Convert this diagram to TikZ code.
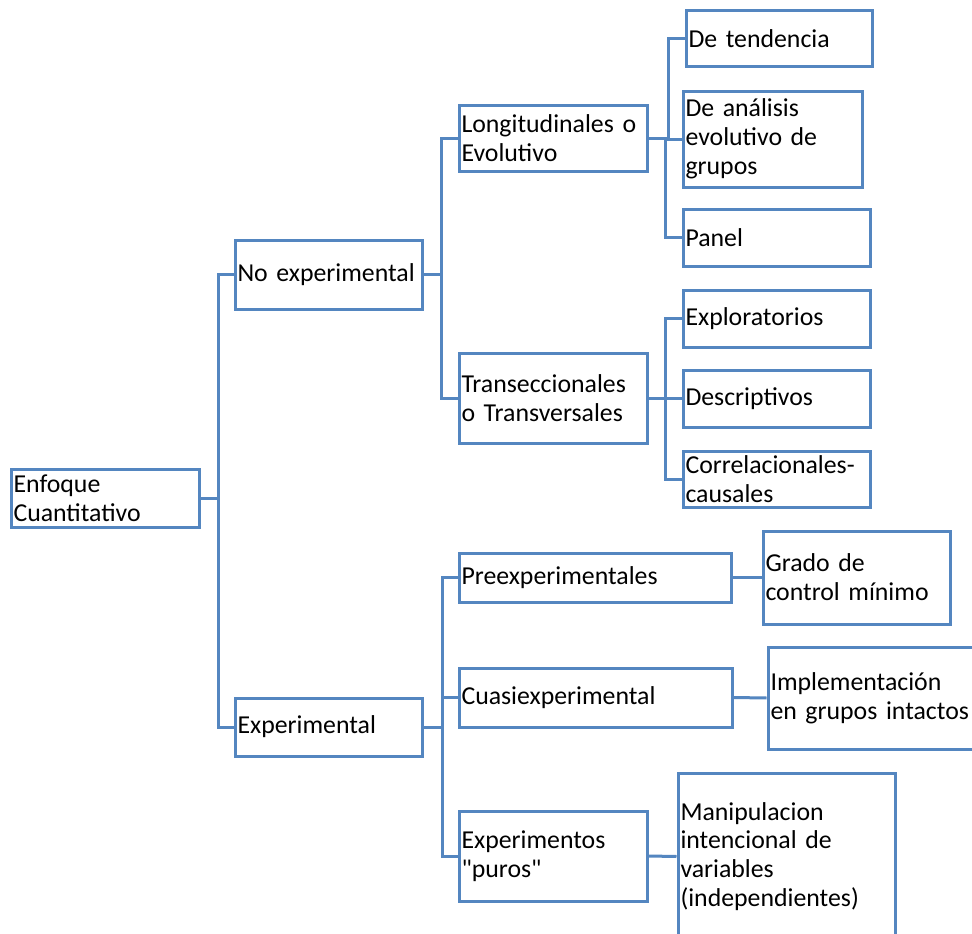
\documentclass[tikz,border=0pt]{standalone}
\usepackage{fontspec}
\setmainfont{Carlito}[Ligatures=TeXOff]
\definecolor{lineblue}{RGB}{84,134,192}
\tikzset{
  box/.style={draw=lineblue, line width=3pt, fill=white, rectangle, inner xsep=2.5pt, inner ysep=0pt, align=left, font=\fontsize{25.8}{28.8}\selectfont},
  conn/.style={draw=lineblue, line width=3pt}
}
\newcommand\mybox[6]{%
  \pgfmathsetmacro\cx{(#2+#4)/2}\pgfmathsetmacro\cy{(#3+#5)/2}%
  \pgfmathsetmacro\ww{#4-#2}\pgfmathsetmacro\hh{#5-#3}\pgfmathsetmacro\tw{#4-#2-5}%
  \node[box,minimum width=\ww pt,minimum height=\hh pt,text width=\tw pt] (#1) at (\cx,\cy) {#6};}
\begin{document}
\begin{tikzpicture}[x=1pt,y=-1pt]
\useasboundingbox[fill=white] (0,0) rectangle (972,934);
\mybox{enf}{11}{469}{199}{527}{Enfoque\\Cuantitativo}
\mybox{noexp}{235}{240}{422}{309}{No experimental}
\mybox{exp}{235}{698}{422}{756}{Experimental}
\mybox{long}{459}{105}{647}{171}{Longitudinales o\\Evolutivo}
\mybox{trans}{459}{353}{647}{443}{Transeccionales\\o Transversales}
\mybox{pre}{459}{553}{731}{602}{Preexperimentales}
\mybox{cuasi}{459}{668}{732}{727}{Cuasiexperimental}
\mybox{puros}{459}{811}{647}{901}{Experimentos\\"puros"}
\mybox{tend}{686}{11}{872}{67}{De tendencia}
\mybox{anal}{683}{91}{862}{187}{De análisis\\evolutivo de\\grupos}
\mybox{panel}{683}{209}{870}{266}{Panel}
\mybox{explor}{683}{290}{870}{347}{Exploratorios}
\mybox{descr}{683}{370}{870}{427}{Descriptivos}
\mybox{correl}{683}{451}{870}{507}{Correlacionales-\\causales}
\mybox{grado}{763}{531}{950}{624}{Grado de\\control mínimo}
\mybox{impl}{768}{647}{990}{749}{Implementación\\en grupos intactos}
\mybox{manip}{678}{773}{895}{940}{Manipulacion\\intencional de\\variables\\(independientes)}
\draw[conn] (enf.east) -- ++(18,0) |- (noexp.west);
\draw[conn] (enf.east) -- ++(18,0) |- (exp.west);
\draw[conn] (noexp.east) -- ++(18,0) |- (long.west);
\draw[conn] (noexp.east) -- ++(18,0) |- (trans.west);
\draw[conn] (exp.east) -- ++(19,0) |- (pre.west);
\draw[conn] (exp.east) -- ++(19,0) |- (cuasi.west);
\draw[conn] (exp.east) -- ++(19,0) |- (puros.west);
\draw[conn] (long.east) -- ++(20,0) |- (tend.west);
\draw[conn] (long.east) -- ++(20,0) |- (anal.west);
\draw[conn] (long.east) -- ++(17,0) |- (panel.west);
\draw[conn] (trans.east) -- ++(17,0) |- (explor.west);
\draw[conn] (trans.east) -- ++(17,0) |- (descr.west);
\draw[conn] (trans.east) -- ++(17,0) |- (correl.west);
\draw[conn] (pre.east) -- (grado.west);
\draw[conn] (cuasi.east) -- (impl.west);
\draw[conn] (puros.east) -- (manip.west);
\end{tikzpicture}
\end{document}
